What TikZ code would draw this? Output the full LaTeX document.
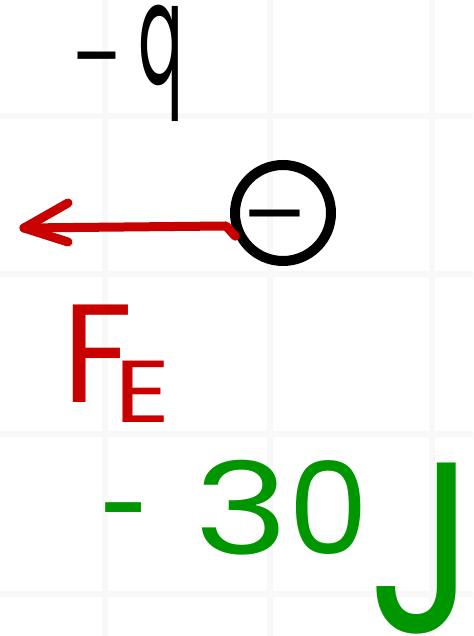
\documentclass[tikz,border=0pt]{standalone}
\usepackage{fontspec}
\setmainfont{Poppins}
\definecolor{inkred}{RGB}{200,0,0}
\definecolor{inkgreen}{RGB}{0,150,0}
\definecolor{gridgray}{RGB}{248,248,248}
\begin{document}
\begin{tikzpicture}[x=1pt,y=1pt,
  gridline/.style={gridgray, line width=6},
  ink/.style={line width=9, line cap=round, line join=round},
  hand/.style={inner sep=0, outer sep=0}]
\useasboundingbox (0,0) rectangle (473,636);
\fill[white] (0,0) rectangle (473,636);
\foreach \x in {105,270,432} \draw[gridline] (\x,0) -- (\x,636);
\foreach \y in {520,362,202,42} \draw[gridline] (0,\y) -- (473,\y);
% -q
\node[hand, anchor=base west, font=\fontsize{95}{95}\selectfont] (qlabel) at (72,551) {\raisebox{-6pt}{-}\hspace{14pt}\smash{\scalebox{0.7}[1.5]{q}}};
% charge
\node[draw, circle, line width=10, minimum size=96, inner sep=0, font=\fontsize{90}{90}\selectfont] (charge) at (283,423) {\makebox[0pt]{\hspace*{-12pt}\smash{\raisebox{-34pt}{\scalebox{1.4}[1]{-}}}}};
% force arrow
\coordinate (elbow) at (226,410);
\coordinate (tip) at (24,408);
\draw[ink, inkred] (charge.206) -- (elbow) -- (tip);
\draw[ink, inkred] (tip) -- ++(44,25);
\draw[ink, inkred] (tip) -- ++(44,-14);
% F_E
\node[hand, anchor=base west, inkred, font=\fontsize{140}{140}\selectfont] (fe) at (62,233) {F\hspace{-18pt}\raisebox{-20pt}{\fontsize{88}{88}\selectfont\scalebox{1.25}[1]{E}}};
% -30J
\node[hand, anchor=base west, inkgreen, font=\fontsize{128}{128}\selectfont] (work) at (100,81) {\scalebox{0.7}[1]{-}\hspace{45pt}\scalebox{1.25}[1]{3}0\smash{\raisebox{-78pt}{\scalebox{1.6}[1.9]{J}}}};
\end{tikzpicture}
\end{document}
